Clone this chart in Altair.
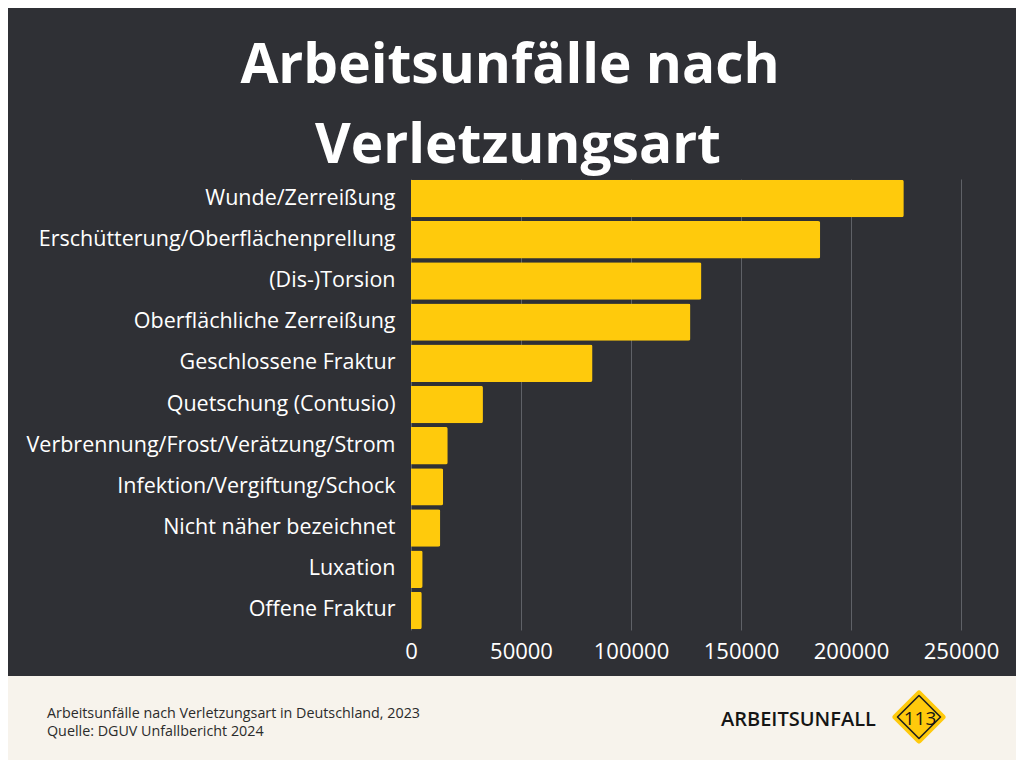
import altair as alt
import pandas as pd

categories = [
    "Wunde/Zerreißung",
    "Erschütterung/Oberflächenprellung",
    "(Dis-)Torsion",
    "Oberflächliche Zerreißung",
    "Geschlossene Fraktur",
    "Quetschung (Contusio)",
    "Verbrennung/Frost/Verätzung/Strom",
    "Infektion/Vergiftung/Schock",
    "Nicht näher bezeichnet",
    "Luxation",
    "Offene Fraktur",
]
values = [224000, 186000, 132000, 127000, 82500, 32700, 16700, 14600, 13300, 5300, 4900]
x_ticks = [0, 50000, 100000, 150000, 200000, 250000]

title_lines = ["Arbeitsunfälle nach", "Verletzungsart"]
footer_lines = ["Arbeitsunfälle nach Verletzungsart in Deutschland, 2023",
                "Quelle: DGUV Unfallbericht 2024"]
brand = "ARBEITSUNFALL"
brand_num = "113"

BG = "#2f3035"
BEIGE = "#f7f3ec"
YELLOW = "#ffca0c"
FONT = "Open Sans"

df = pd.DataFrame({"cat": categories, "val": values})
one = pd.DataFrame({"a": [0]})

CW, CH = 1008, 752          # whole chart
W, H = 550, 451             # plot area
PL, PT = 403, 171           # plot origin inside chart


def px(X):  # page x -> plot x
    return X - 8 - PL


def py(Y):  # page y -> plot y
    return Y - 8 - PT


bars = alt.Chart(df).mark_bar(color=YELLOW, cornerRadiusTopRight=2, cornerRadiusBottomRight=2).encode(
    x=alt.X("val:Q", scale=alt.Scale(domain=[0, 250000], nice=False),
            axis=alt.Axis(values=x_ticks, title=None, grid=True, gridColor="#5f6167", gridWidth=1,
                          domain=False, ticks=False, labelColor="white", labelFont=FONT,
                          labelFontSize=22, labelPadding=11, format="d", labelFlush=False)),
    y=alt.Y("cat:N", sort=None, scale=alt.Scale(paddingInner=0.09, paddingOuter=0.02),
            axis=alt.Axis(title=None, domain=False, ticks=False, labelColor="white", labelFont=FONT,
                          labelFontSize=21.5, labelPadding=16, labelLimit=400)),
)


def txt(text, x, y, size, color, weight="normal", align="center", font=FONT):
    return alt.Chart(one).mark_text(text=text, fontSize=size, color=color, fontWeight=weight,
                                    align=align, baseline="alphabetic", font=font,
                                    clip=False).encode(x=alt.value(x), y=alt.value(y))


footer_bg = alt.Chart(one).mark_rect(color=BEIGE, clip=False).encode(
    x=alt.value(-PL), x2=alt.value(CW - PL), y=alt.value(py(676)), y2=alt.value(CH - PT))

diamond = alt.Chart(one).mark_point(shape="diamond", filled=True, color=YELLOW, stroke=YELLOW,
                                    strokeWidth=6, strokeJoin="round", size=47 * 47,
                                    opacity=1, clip=False).encode(
    x=alt.value(px(919)), y=alt.value(py(717)))
diamond_in = alt.Chart(one).mark_point(shape="diamond", filled=False, color="#1f1f1f", size=43 * 43,
                                       strokeWidth=1.6, strokeJoin="round", opacity=1,
                                       clip=False).encode(
    x=alt.value(px(919)), y=alt.value(py(717)))

layers = [
    bars,
    txt(title_lines[0], px(510), py(83), 55, "white", "bold"),
    txt(title_lines[1], px(518), py(163), 55, "white", "bold"),
    footer_bg,
    txt(footer_lines[0], px(47), py(718), 14.3, "#2b2b2b", align="left"),
    txt(footer_lines[1], px(47), py(736), 14.3, "#2b2b2b", align="left"),
    txt(brand, px(721), py(726), 20, "#151515", 600, align="left"),
    diamond,
    diamond_in,
    txt(brand_num, px(920), py(725), 19, "#151515", 500, align="center"),
]

chart = alt.layer(*layers).properties(
    width=W, height=H,
    background=BG,
    padding={"left": PL, "top": PT, "right": CW - PL - W, "bottom": CH - PT - H},
    autosize=alt.AutoSizeParams(type="none"),
).configure_view(stroke=None)

chart.save("out.html", embed_options={"renderer": "svg", "actions": False})
